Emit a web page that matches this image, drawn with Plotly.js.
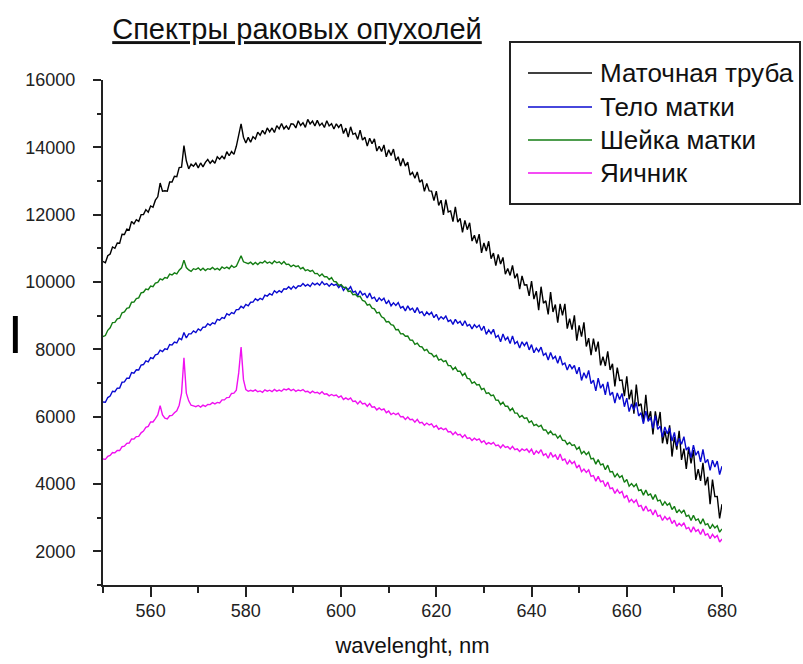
<!DOCTYPE html>
<html>
<head>
<meta charset="utf-8">
<script src="https://cdn.plot.ly/plotly-3.0.1.min.js"></script>
<style>
  html, body { margin: 0; padding: 0; background: #fff; }
  #chart { width: 803px; height: 664px; }
</style>
</head>
<body>
<div id="chart"></div>
<script>
// Wavelength grid (nm), 0.5 nm sampling from 550 to 680
const wavelength = Array.from({length: 261}, (_, i) => 550 + i * 0.5);

const seriesNames = ['Маточная труба', 'Тело матки', 'Шейка матки', 'Яичник'];

// Маточная труба (black)
const tubeValues = [
10610,10570,10780,10830,11040,11000,11160,11150,11420,11410,
11570,11545,11800,11725,11850,11800,12000,12000,12150,12075,
12260,12220,12430,12530,12940,12700,12710,12700,12970,12970,
13140,13130,13400,13410,14050,13600,13360,13500,13440,13530,
13390,13535,13420,13555,13640,13525,13610,13525,13720,13645,
13740,13655,13870,13750,13875,13790,14030,14400,14700,14300,
14130,14295,14150,14315,14250,14450,14360,14505,14390,14575,
14460,14575,14440,14645,14550,14710,14550,14635,14530,14700,
14690,14575,14790,14650,14730,14595,14830,14695,14780,14635,
14800,14645,14720,14590,14790,14635,14700,14545,14700,14590,
14690,14410,14570,14305,14610,14385,14420,14235,14510,14215,
14300,14035,14270,14105,14250,13890,14030,13875,14070,13720,
13930,13760,13950,13605,13720,13445,13670,13445,13560,13175,
13260,13085,13270,12965,13040,12695,12930,12705,12700,12415,
12700,12275,12430,11995,12450,12080,12110,11795,12230,11775,
11890,11475,11830,11555,11760,11215,11390,11145,11420,10865,
11160,10920,11210,10695,10860,10485,10820,10535,10730,10230,
10400,10195,10490,10110,10250,9785,10180,9910,9920,9585,
10030,9490,9730,9165,9860,9370,9440,9040,9700,9110,
9330,8790,9350,9010,9350,8615,8910,8585,9010,8255,
8710,8375,8800,8085,8330,7825,8320,7930,8230,7525,
7780,7505,7940,7390,7570,6900,7460,7075,7090,6610,
7200,6515,6800,6090,6950,6315,6380,5850,6650,5905,
6160,5475,6160,5725,6140,5210,5580,5185,5740,4815,
5400,5020,5580,4715,5050,4445,5080,4610,5010,4120,
4440,4090,4630,3960,4210,3400,4130,3625,3630,2975,
3400];

// Тело матки (blue)
const bodyValues = [
6436,6427,6568,6613,6754,6740,6846,6850,7022,7032,
7144,7143,7310,7291,7392,7386,7530,7549,7658,7629,
7756,7722,7838,7858,7974,7935,8016,7995,8142,8127,
8214,8188,8330,8286,8500,8336,8460,8459,8548,8499,
8606,8557,8658,8663,8764,8715,8786,8755,8892,8867,
8944,8918,9060,9016,9092,9061,9180,9184,9278,9229,
9336,9292,9398,9403,9504,9450,9516,9480,9612,9582,
9654,9613,9740,9681,9742,9696,9800,9784,9858,9789,
9876,9807,9888,9873,9954,9880,9926,9865,9972,9917,
9964,9903,10010,9921,9952,9876,9950,9899,9938,9834,
9910,9750,9840,9770,9860,9695,9730,9595,9740,9615,
9660,9525,9670,9510,9550,9415,9530,9450,9520,9355,
9450,9290,9380,9305,9390,9230,9270,9140,9290,9170,
9220,9090,9240,9080,9120,8990,9110,9030,9100,8940,
9040,8880,8970,8900,8990,8830,8870,8740,8890,8775,
8830,8700,8850,8695,8740,8610,8730,8650,8720,8560,
8690,8445,8575,8465,8595,8355,8415,8225,8455,8280,
8360,8170,8400,8165,8230,8040,8225,8110,8220,7985,
8140,7900,8035,7930,8065,7825,7885,7685,7905,7720,
7790,7585,7800,7545,7590,7385,7555,7425,7520,7270,
7470,7075,7305,7140,7375,6980,7085,6765,7145,6845,
6970,6650,7030,6630,6730,6405,6705,6510,6690,6295,
6550,6150,6375,6200,6425,6020,6115,5790,6165,5860,
5980,5655,6030,5625,5720,5395,5695,5495,5670,5275,
5530,5130,5355,5180,5405,5005,5105,4780,5155,4855,
4980,4655,5030,4630,4730,4405,4705,4505,4680,4280,
4530];

// Шейка матки (green)
const cervixValues = [
8380,8410,8565,8640,8795,8800,8905,8925,9085,9110,
9220,9240,9400,9405,9510,9530,9675,9695,9790,9770,
9880,9860,9965,9990,10095,10065,10135,10115,10235,10210,
10270,10240,10350,10420,10650,10430,10360,10315,10395,10370,
10420,10350,10410,10340,10395,10375,10435,10370,10405,10355,
10445,10400,10440,10395,10490,10430,10470,10650,10780,10600,
10575,10545,10590,10520,10580,10520,10585,10565,10625,10560,
10595,10540,10625,10570,10600,10535,10610,10520,10530,10455,
10505,10455,10480,10390,10430,10335,10365,10315,10345,10250,
10255,10175,10235,10155,10160,10075,10130,10015,10000,9900,
9925,9845,9840,9720,9730,9620,9635,9565,9575,9450,
9425,9310,9335,9225,9200,9080,9100,8965,8930,8815,
8825,8730,8710,8580,8590,8460,8465,8390,8395,8275,
8270,8150,8185,8085,8070,7965,8000,7885,7870,7775,
7822,7679,7711,7631,7663,7520,7517,7395,7469,7349,
7348,7221,7290,7137,7124,6992,7035,6943,6956,6808,
6842,6689,6711,6621,6643,6495,6487,6360,6429,6309,
6308,6181,6250,6107,6104,5982,6035,5948,5966,5828,
5872,5734,5771,5701,5743,5605,5607,5490,5569,5464,
5478,5361,5440,5297,5294,5177,5235,5148,5166,5028,
5096,4897,4973,4873,4949,4745,4761,4590,4727,4567,
4594,4423,4560,4356,4372,4201,4305,4194,4248,4049,
4136,3937,4013,3918,3999,3805,3831,3670,3817,3667,
3704,3543,3690,3496,3522,3361,3475,3369,3428,3239,
3336,3147,3233,3143,3229,3040,3071,2915,3067,2922,
2964,2813,2970,2786,2822,2671,2795,2694,2758,2569,
2666];

// Яичник (magenta)
const ovaryValues = [
4744,4733,4822,4847,4936,4925,4994,4995,5108,5123,
5206,5217,5340,5334,5408,5414,5520,5571,5682,5711,
5844,5843,5942,6050,6330,6050,5954,5935,6028,6038,
6116,6172,6340,6700,7750,6700,6470,6339,6320,6296,
6332,6286,6344,6303,6362,6357,6416,6380,6424,6405,
6498,6498,6566,6572,6690,6699,6788,7300,8070,7100,
6804,6753,6782,6757,6796,6740,6764,6725,6798,6758,
6786,6742,6810,6759,6788,6754,6820,6796,6832,6771,
6814,6753,6792,6767,6806,6740,6754,6700,6758,6708,
6726,6677,6740,6669,6678,6619,6660,6621,6642,6571,
6616,6512,6558,6508,6554,6450,6466,6380,6462,6377,
6394,6308,6390,6281,6292,6201,6260,6199,6228,6119,
6166,6062,6108,6058,6104,5995,6006,5915,5992,5907,
5924,5838,5920,5816,5832,5746,5810,5754,5788,5684,
5736,5627,5668,5613,5654,5545,5556,5465,5542,5457,
5474,5383,5460,5356,5372,5291,5360,5304,5338,5234,
5286,5182,5228,5183,5234,5135,5156,5075,5162,5087,
5114,5033,5120,5021,5042,4966,5040,4994,5038,4944,
5036,4872,4983,4913,5019,4850,4901,4765,4937,4807,
4864,4723,4890,4706,4742,4586,4705,4604,4668,4474,
4566,4367,4443,4343,4419,4225,4251,4085,4227,4067,
4094,3923,4060,3861,3882,3721,3835,3724,3778,3579,
3666,3467,3543,3448,3529,3335,3361,3200,3347,3197,
3234,3078,3230,3041,3072,2916,3035,2939,3008,2824,
2926,2742,2833,2753,2849,2670,2711,2565,2727,2592,
2644,2498,2660,2481,2522,2376,2505,2404,2468,2274,
2366];

const seriesValues = [tubeValues, bodyValues, cervixValues, ovaryValues];
const seriesColors = ['#000000', '#0a0ad0', '#137d13', '#f010f0'];

const xTickVals = [560, 580, 600, 620, 640, 660, 680];
const yTickVals = [2000, 4000, 6000, 8000, 10000, 12000, 14000, 16000];

const FONT = 'Liberation Sans, Arial, Helvetica, sans-serif';

// Plot-area geometry in pixels (margins) and helpers to place the legend in paper units
const M = {l: 103, r: 81, t: 80, b: 79};
const PW = 803 - M.l - M.r, PH = 664 - M.t - M.b;
const px2x = px => (px - M.l) / PW;
const px2y = py => (664 - M.b - py) / PH;

const traces = seriesNames.map((name, i) => ({
  type: 'scatter',
  mode: 'lines',
  name: name,
  x: wavelength,
  y: seriesValues[i],
  line: {color: seriesColors[i], width: 1.4},
  showlegend: false,
  hoverinfo: 'x+y+name'
}));

// Legend drawn as a boxed key (line sample + label per series)
const legendRowY = [73, 107, 140, 173];
const shapes = [{
  type: 'rect', xref: 'paper', yref: 'paper',
  x0: px2x(510), x1: px2x(800), y0: px2y(42), y1: px2y(204),
  line: {color: '#222222', width: 2}, fillcolor: 'rgba(255,255,255,0)', layer: 'above'
}];
const annotations = [];
seriesNames.forEach((name, i) => {
  shapes.push({
    type: 'line', xref: 'paper', yref: 'paper',
    x0: px2x(528), x1: px2x(592), y0: px2y(legendRowY[i]), y1: px2y(legendRowY[i]),
    line: {color: seriesColors[i], width: 1.6}, layer: 'above'
  });
  annotations.push({
    text: name, showarrow: false, xref: 'paper', yref: 'paper',
    x: px2x(598), y: px2y(legendRowY[i]), xanchor: 'left', yanchor: 'middle',
    font: {family: FONT, size: 26, color: '#111111'}
  });
});
annotations.push({
  text: 'I', showarrow: false,
  xref: 'paper', yref: 'paper',
  x: px2x(15.5), y: px2y(334),
  xanchor: 'center', yanchor: 'middle',
  font: {family: FONT, size: 53, color: '#000000'}
});

const layout = {
  width: 803,
  height: 664,
  paper_bgcolor: '#ffffff',
  plot_bgcolor: '#ffffff',
  margin: {l: M.l, r: M.r, t: M.t, b: M.b, pad: 0, autoexpand: false},
  font: {family: FONT, color: '#222222'},
  showlegend: false,
  title: {
    text: '<u>Спектры раковых опухолей</u>',
    font: {family: FONT, size: 29, color: '#111111'},
    xref: 'container', x: 297 / 803, xanchor: 'center',
    yref: 'container', y: 1 - 29 / 664, yanchor: 'middle'
  },
  xaxis: {
    range: [550, 680],
    tickmode: 'array',
    tickvals: xTickVals,
    tickformat: 'd',
    ticks: 'outside', ticklen: 10, tickwidth: 2, tickcolor: '#222222',
    minor: {dtick: 10, tick0: 550, ticks: 'outside', ticklen: 6, tickwidth: 2, tickcolor: '#222222', showgrid: false},
    showline: true, linewidth: 2, linecolor: '#222222',
    showgrid: false, zeroline: false,
    tickfont: {family: FONT, size: 18, color: '#222222'},
    ticklabelstandoff: -2,
    title: {text: 'wavelenght, nm', font: {family: FONT, size: 22, color: '#111111'}, standoff: 18}
  },
  yaxis: {
    range: [1000, 16000],
    tickmode: 'array',
    tickvals: yTickVals,
    tickformat: 'd',
    ticks: 'outside', ticklen: 8, tickwidth: 2, tickcolor: '#222222',
    minor: {dtick: 1000, tick0: 1000, ticks: 'outside', ticklen: 4, tickwidth: 2, tickcolor: '#222222', showgrid: false},
    showline: true, linewidth: 2, linecolor: '#222222',
    showgrid: false, zeroline: false,
    tickfont: {family: FONT, size: 18, color: '#222222'},
    ticklabelstandoff: 14
  },
  shapes: shapes,
  annotations: annotations
};

Plotly.newPlot('chart', traces, layout, {displayModeBar: false});
</script>
</body>
</html>
